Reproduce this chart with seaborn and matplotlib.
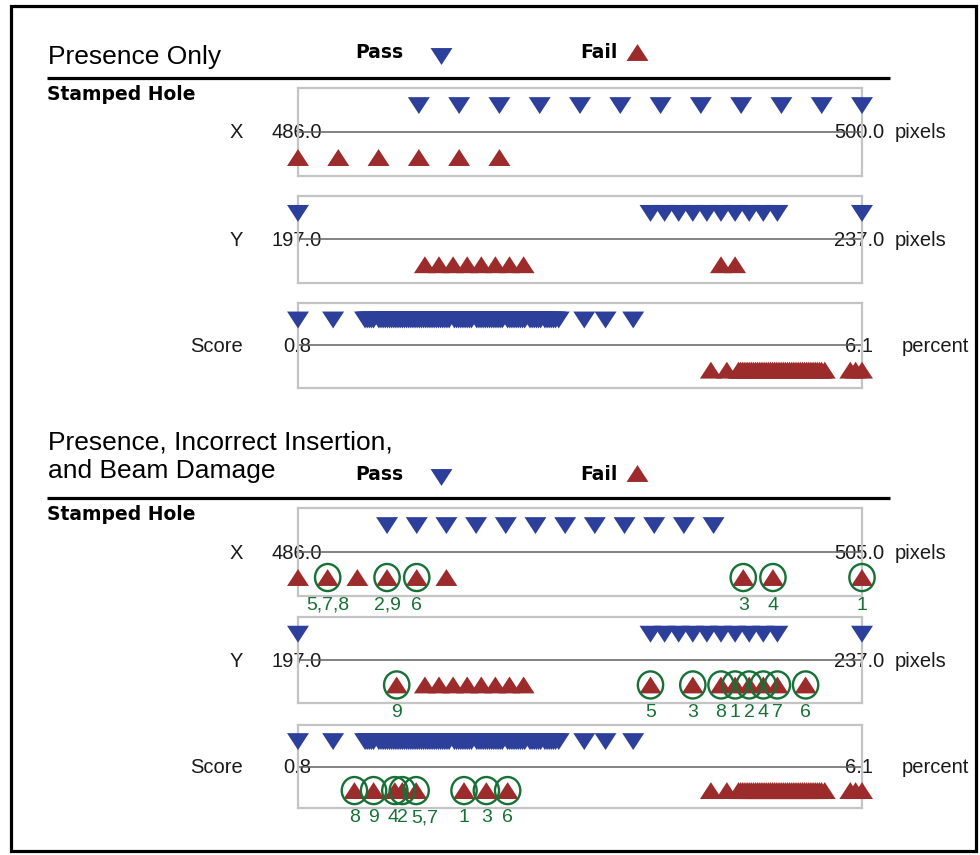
import numpy as np
import pandas as pd
import matplotlib
matplotlib.use("Agg")
import matplotlib.pyplot as plt
from matplotlib.path import Path
from matplotlib.patches import Rectangle
import seaborn as sns

sns.set_theme(style="white")
plt.rcParams["font.family"] = ["Liberation Sans", "DejaVu Sans"]

# ---------------------------------------------------------------- data
measures = ["X", "Y", "Score"]
units = ["pixels", "pixels", "percent"]

x_range_presence = [486.0, 500.0]
x_range_full = [486.0, 505.0]
y_range = [197.0, 237.0]
score_range = [0.8, 6.1]

x_pass = [489, 490, 491, 492, 493, 494, 495, 496, 497, 498, 499, 500]
x_fail_presence = [486, 487, 488, 489, 490, 491]
x_fail_extra = [501, 502, 505]

y_pass = [197, 222, 223, 224, 225, 226, 227, 228, 229, 230, 231, 237]
y_fail_presence = [206, 207, 208, 209, 210, 211, 212, 213, 227, 228]
y_fail_extra = [204, 222, 225, 229, 230, 231, 233]

score_pass = [0.80, 1.13,
              1.43, 1.45, 1.47, 1.49, 1.51, 1.56, 1.58, 1.60, 1.62, 1.64,
              1.66, 1.68, 1.70, 1.72, 1.74, 1.76, 1.78, 1.80, 1.82, 1.84,
              1.86, 1.88, 1.90, 1.92, 1.94, 1.96, 1.98, 2.00, 2.02, 2.04,
              2.06, 2.08, 2.10, 2.12, 2.14, 2.16, 2.18, 2.20, 2.22, 2.27,
              2.29, 2.31, 2.33, 2.35, 2.37, 2.39, 2.41, 2.43, 2.48, 2.50,
              2.52, 2.54, 2.56, 2.58, 2.60, 2.62, 2.64, 2.66, 2.68, 2.70,
              2.72, 2.77, 2.79, 2.81, 2.83, 2.85, 2.87, 2.89, 2.91, 2.93,
              2.98, 3.00, 3.02, 3.04, 3.06, 3.08, 3.12, 3.14, 3.16, 3.18,
              3.20, 3.22, 3.25,
              3.49, 3.69, 3.95]
score_fail_presence = [4.68, 4.83,
                       4.94, 4.96, 4.98, 5.00, 5.02, 5.04, 5.06, 5.08, 5.10,
                       5.12, 5.14, 5.16, 5.18, 5.20, 5.22, 5.24, 5.26, 5.28,
                       5.30, 5.32, 5.34, 5.36, 5.38, 5.40, 5.42, 5.44, 5.46,
                       5.48, 5.50, 5.52, 5.54, 5.56, 5.58, 5.60, 5.62, 5.64,
                       5.66, 5.68, 5.70, 5.72, 5.75,
                       5.99, 6.04, 6.10]
score_fail_extra = [1.33, 1.51, 1.71, 1.78, 1.91, 2.36, 2.57, 2.77]

# image ids of the points flagged by the extended inspection
x_marked = [487, 489, 490, 501, 502, 505]
x_marked_ids = ["5,7,8", "2,9", "6", "3", "4", "1"]
y_marked = [204, 222, 225, 227, 228, 229, 230, 231, 233]
y_marked_ids = ["9", "5", "3", "8", "1", "2", "4", "7", "6"]
score_marked = [1.33, 1.51, 1.71, 1.78, 1.91, 2.36, 2.57, 2.77]
score_marked_ids = ["8", "9", "4", "2", "5,7", "1", "3", "6"]

# ---------------------------------------------------------------- style
W, H = 980, 855
BLUE = "#2c3f9b"
RED = "#9c2b2c"
GREEN = "#177036"
BOX = "#c4c4c4"
AXLINE = "#606060"
TXT = "#1a1a1a"

down_tri = Path([(-1, 0.77), (1, 0.77), (0, -0.77), (-1, 0.77)],
                [Path.MOVETO, Path.LINETO, Path.LINETO, Path.CLOSEPOLY])
up_tri = Path([(-1, -0.77), (1, -0.77), (0, 0.77), (-1, -0.77)],
              [Path.MOVETO, Path.LINETO, Path.LINETO, Path.CLOSEPOLY])
_circ = Path.unit_circle()
ring = Path(_circ.vertices * np.array([1.0, 1.07]), _circ.codes)
TRI_S = 15.8 ** 2
RING_S = 19.5 ** 2

PASS_Y, FAIL_Y = 0.6, -0.58
BOX_X0, BOX_X1 = 298, 862

fig = plt.figure(figsize=(W / 100, H / 100), dpi=100)
canvas = fig.add_axes([0, 0, 1, 1])
canvas.set_xlim(0, W)
canvas.set_ylim(H, 0)
canvas.axis("off")

canvas.add_patch(Rectangle((11, 6), 965, 845, fill=False, ec="black", lw=2.3))


def px_axes(x0, y0, x1, y1):
    return fig.add_axes([x0 / W, 1 - y1 / H, (x1 - x0) / W, (y1 - y0) / H])


def fmt(v):
    return f"{v:.1f}"


def draw_panel(top, bottom, label, unit, unit_x, lo, hi, pass_vals, fail_vals,
               marked=None, marked_ids=None, nudges=None):
    ax = px_axes(BOX_X0, top, BOX_X1, bottom)
    ax.set_xlim(lo, hi)
    ax.set_ylim(-1, 1)
    ax.set_xticks([])
    ax.set_yticks([])
    ax.set_facecolor("none")
    for sp in ax.spines.values():
        sp.set_color(BOX)
        sp.set_linewidth(1.6)
    ax.axhline(0, color=AXLINE, lw=1.1, zorder=1)

    df = pd.DataFrame({
        "value": list(pass_vals) + list(fail_vals),
        "result": ["Pass"] * len(pass_vals) + ["Fail"] * len(fail_vals),
    })
    df["level"] = df["result"].map({"Pass": PASS_Y, "Fail": FAIL_Y})
    sns.scatterplot(data=df, x="value", y="level", hue="result", style="result",
                    markers={"Pass": down_tri, "Fail": up_tri},
                    palette={"Pass": BLUE, "Fail": RED}, s=TRI_S,
                    linewidth=0, edgecolor="none", legend=False, ax=ax,
                    clip_on=False, zorder=3)
    ax.set_xlabel("")
    ax.set_ylabel("")

    mid = (top + bottom) / 2 + 1
    canvas.text(243, mid, label, ha="right", va="center", fontsize=14.5, color=TXT)
    canvas.text(BOX_X0 - 1, mid, fmt(lo), ha="center", va="center", fontsize=14.5,
                color=TXT, zorder=5)
    canvas.text(BOX_X1 - 3, mid, fmt(hi), ha="center", va="center", fontsize=14.5,
                color=TXT, zorder=5)
    canvas.text(unit_x, mid, unit, ha="left", va="center", fontsize=14.5, color=TXT)

    if marked is not None:
        ax.scatter(marked, [FAIL_Y] * len(marked), marker=ring, s=RING_S,
                   facecolors="none", edgecolors=GREEN, linewidths=1.7,
                   clip_on=False, zorder=4)
        for i, (v, t) in enumerate(zip(marked, marked_ids)):
            dx = nudges.get(i, 0) if nudges else 0
            ax.annotate(t, xy=(v, 0), xycoords=ax.get_xaxis_transform(),
                        xytext=(dx, -1), textcoords="offset pixels",
                        ha="center", va="top", fontsize=14, color=GREEN,
                        annotation_clip=False)
    return ax


def draw_header(title_lines, title_ys, legend_y, rule_y, header_y):
    for line, y in zip(title_lines, title_ys):
        canvas.text(48, y, line, ha="left", va="center", fontsize=19, color="black")
    canvas.text(355, legend_y, "Pass", ha="left", va="center", fontsize=13.5,
                fontweight="bold", family="DejaVu Sans", color="black")
    canvas.scatter([441], [legend_y + 3], marker=down_tri, s=TRI_S, color=BLUE, lw=0)
    canvas.text(580, legend_y, "Fail", ha="left", va="center", fontsize=13.5,
                fontweight="bold", family="DejaVu Sans", color="black")
    canvas.scatter([637], [legend_y - 1], marker=up_tri, s=TRI_S, color=RED, lw=0)
    canvas.plot([47, 890], [rule_y, rule_y], color="black", lw=2.3,
                solid_capstyle="butt")
    canvas.text(47, header_y, "Stamped Hole", ha="left", va="center", fontsize=13.5,
                fontweight="bold", family="DejaVu Sans", color="black")


unit_cols = [895, 895, 902]

# ---- Presence only
draw_header(["Presence Only"], [57], 53, 78, 94)
tops1 = [88, 196, 303]
bots1 = [176, 283, 388]
ranges1 = [x_range_presence, y_range, score_range]
pass1 = [x_pass, y_pass, score_pass]
fail1 = [x_fail_presence, y_fail_presence, score_fail_presence]
for i in range(3):
    draw_panel(tops1[i], bots1[i], measures[i], units[i], unit_cols[i],
               ranges1[i][0], ranges1[i][1], pass1[i], fail1[i])

# ---- Presence, incorrect insertion and beam damage
draw_header(["Presence, Incorrect Insertion,", "and Beam Damage"], [442, 471],
            474, 498, 514)
tops2 = [508, 617, 725]
bots2 = [596, 703, 808]
ranges2 = [x_range_full, y_range, score_range]
pass2 = [x_pass, y_pass, score_pass]
fail2 = [x_fail_presence + x_fail_extra,
         y_fail_presence + y_fail_extra,
         score_fail_presence + score_fail_extra]
marks2 = [x_marked, y_marked, score_marked]
ids2 = [x_marked_ids, y_marked_ids, score_marked_ids]
nudges2 = [None, None, {2: -2, 4: 9}]
for i in range(3):
    draw_panel(tops2[i], bots2[i], measures[i], units[i], unit_cols[i],
               ranges2[i][0], ranges2[i][1], pass2[i], fail2[i],
               marked=marks2[i], marked_ids=ids2[i], nudges=nudges2[i])

fig.savefig("out.png", dpi=100)
